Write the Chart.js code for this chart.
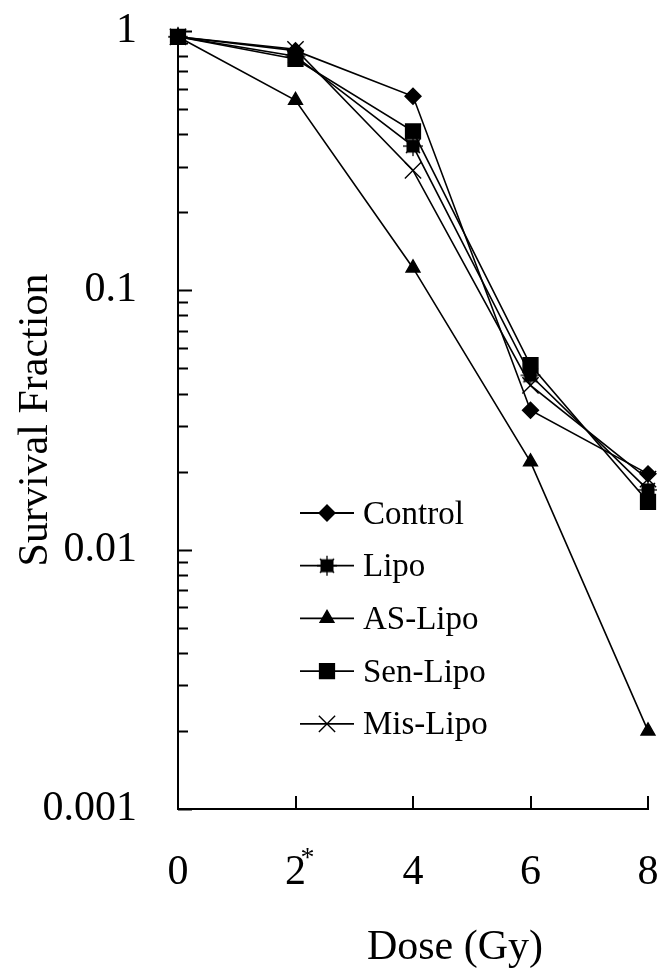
<!DOCTYPE html>
<html>
<head>
<meta charset="utf-8">
<script src="https://cdn.jsdelivr.net/npm/chart.js@4.4.1/dist/chart.umd.min.js"></script>
<style>
    html, body { margin: 0; padding: 0; background: #fff; }
    #survivalChart { display: block; }
</style>
</head>
<body>
<canvas id="survivalChart" width="657" height="968"></canvas>
<script>
// Dados
const doses = [0, 2, 4, 6, 8];
const control = [0.95, 0.84, 0.56, 0.0345, 0.0196];
const lipo = [0.95, 0.80, 0.36, 0.047, 0.017];
const asLipo = [0.95, 0.54, 0.122, 0.0218, 0.002];
const senLipo = [0.95, 0.78, 0.41, 0.0515, 0.0153];
const misLipo = [0.95, 0.85, 0.29, 0.043, 0.0187];

const yTickValues = [0.001, 0.01, 0.1, 1];
const yTickLabels = ['0.001', '0.01', '0.1', '1'];
const xTickValues = [0, 2, 4, 6, 8];

const FONT = '"Liberation Serif", "Times New Roman", serif';

// marcador do Lipo: quadrado com estrela
function makeLipoMarker() {
    const c = document.createElement('canvas');
    c.width = 22;
    c.height = 22;
    const g = c.getContext('2d');
    g.strokeStyle = '#000';
    g.lineWidth = 1.3;
    for (let i = 0; i < 4; i++) {
        const a = i * Math.PI / 4;
        g.beginPath();
        g.moveTo(11 - 10 * Math.cos(a), 11 - 10 * Math.sin(a));
        g.lineTo(11 + 10 * Math.cos(a), 11 + 10 * Math.sin(a));
        g.stroke();
    }
    g.fillStyle = '#000';
    g.fillRect(4.5, 4.5, 13, 13);
    return c;
}

function toPoints(values) {
    return doses.map((d, i) => ({ x: d, y: values[i] }));
}

function series(label, values, pointStyle, radius) {
    return {
        label,
        data: toPoints(values),
        borderColor: '#000',
        backgroundColor: '#000',
        borderWidth: 1.6,
        pointStyle,
        pointRadius: radius,
        pointHoverRadius: radius,
        pointBackgroundColor: '#000',
        pointBorderColor: '#000',
        pointBorderWidth: 1.4,
        tension: 0,
        clip: false
    };
}

// ticks para dentro (principais e secundários)
const inwardTicks = {
    id: 'inwardTicks',
    beforeDatasetsDraw(chart) {
        const { ctx, chartArea, scales } = chart;
        ctx.save();
        ctx.strokeStyle = '#000';
        ctx.lineWidth = 2;
        ctx.beginPath();
        for (let d = -3; d <= 0; d++) {
            const base = Math.pow(10, d);
            const py = Math.round(scales.y.getPixelForValue(base)) + 0.5;
            ctx.moveTo(chartArea.left, py);
            ctx.lineTo(chartArea.left + 14, py);
            if (d < 0) {
                for (let m = 2; m <= 9; m++) {
                    const my = Math.round(scales.y.getPixelForValue(m * base)) + 0.5;
                    ctx.moveTo(chartArea.left, my);
                    ctx.lineTo(chartArea.left + 10, my);
                }
            }
        }
        xTickValues.forEach(v => {
            if (v === 0) return;
            const px = Math.round(scales.x.getPixelForValue(v));
            ctx.moveTo(px, chartArea.bottom);
            ctx.lineTo(px, chartArea.bottom - 13);
        });
        ctx.stroke();
        ctx.restore();
    }
};

// legenda com linha + marcador
const lineLegend = {
    id: 'lineLegend',
    afterDatasetsDraw(chart) {
        const { ctx, chartArea } = chart;
        const x0 = chartArea.left + 122;
        const y0 = chartArea.top + 482;
        const rowGap = 52.7;
        chart.data.datasets.forEach((ds, i) => {
            const y = y0 + i * rowGap;
            ctx.save();
            ctx.strokeStyle = '#000';
            ctx.fillStyle = '#000';
            ctx.lineWidth = 1.8;
            ctx.beginPath();
            ctx.moveTo(x0, y);
            ctx.lineTo(x0 + 54, y);
            ctx.stroke();
            ctx.lineWidth = 1.4;
            Chart.helpers.drawPoint(ctx, {
                pointStyle: ds.pointStyle,
                radius: ds.pointRadius,
                borderWidth: 1.4,
                rotation: 0
            }, x0 + 27, y);
            ctx.font = '33px ' + FONT;
            ctx.textBaseline = 'middle';
            ctx.textAlign = 'left';
            ctx.fillText(ds.label, x0 + 63, y + 2);
            ctx.restore();
        });
    }
};

// título do eixo x e asterisco no "2"
const extraText = {
    id: 'extraText',
    afterDraw(chart) {
        const { ctx, chartArea, scales } = chart;
        ctx.save();
        ctx.fillStyle = '#000';
        ctx.font = '42px ' + FONT;
        ctx.textAlign = 'center';
        ctx.textBaseline = 'middle';
        ctx.fillText('Dose (Gy)', (chartArea.left + chartArea.right) / 2 + 42, chartArea.bottom + 139);
        ctx.font = '28px ' + FONT;
        ctx.textAlign = 'left';
        ctx.textBaseline = 'alphabetic';
        ctx.fillText('*', scales.x.getPixelForValue(2) + 5, chartArea.bottom + 57);
        ctx.restore();
    }
};

new Chart(document.getElementById('survivalChart'), {
    type: 'line',
    data: {
        datasets: [
            series('Control', control, 'rectRot', 8),
            series('Lipo', lipo, makeLipoMarker(), 10),
            series('AS-Lipo', asLipo, 'triangle', 8),
            series('Sen-Lipo', senLipo, 'rect', 10.5),
            series('Mis-Lipo', misLipo, 'crossRot', 11.5)
        ]
    },
    options: {
        responsive: false,
        animation: false,
        layout: { autoPadding: false, padding: { top: 31, right: 9, left: 0, bottom: 0 } },
        scales: {
            x: {
                type: 'linear',
                min: 0,
                max: 8,
                afterBuildTicks: scale => {
                    scale.ticks = xTickValues.map(v => ({ value: v }));
                },
                afterFit: scale => {
                    scale.height = 159;
                    scale.paddingLeft = 0;
                    scale.paddingRight = 0;
                },
                grid: { display: false, drawTicks: false },
                border: { display: true, color: '#000', width: 2 },
                ticks: {
                    color: '#000',
                    padding: 39,
                    maxRotation: 0,
                    font: { family: FONT, size: 42 },
                    callback: v => String(v)
                },
                title: { display: false }
            },
            y: {
                type: 'logarithmic',
                min: 0.001,
                max: 1,
                afterBuildTicks: scale => {
                    scale.ticks = yTickValues.map(v => ({ value: v }));
                },
                afterFit: scale => {
                    scale.width = 178;
                    scale.paddingTop = 0;
                    scale.paddingBottom = 0;
                },
                grid: { display: false, drawTicks: false },
                border: { display: true, color: '#000', width: 2 },
                ticks: {
                    color: '#000',
                    padding: 41,
                    font: { family: FONT, size: 42 },
                    callback: (v, i) => yTickLabels[i]
                },
                title: {
                    display: true,
                    text: 'Survival Fraction',
                    color: '#000',
                    padding: { top: 11, bottom: 0 },
                    font: { family: FONT, size: 42 }
                }
            }
        },
        plugins: {
            legend: { display: false },
            tooltip: { enabled: false }
        }
    },
    plugins: [inwardTicks, lineLegend, extraText]
});
</script>
</body>
</html>
